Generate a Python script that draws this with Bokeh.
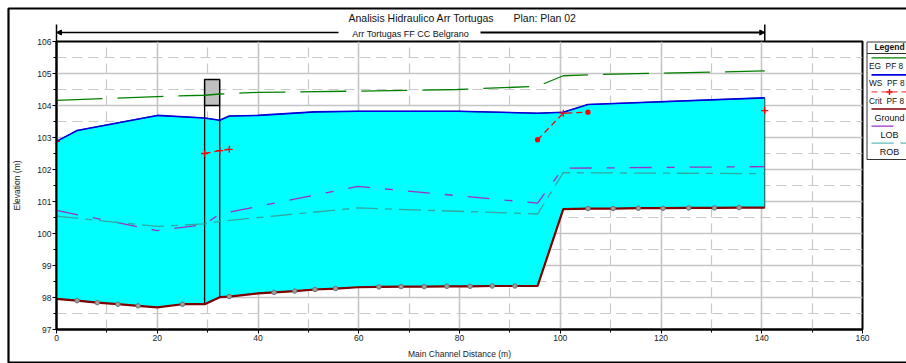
import math

from bokeh.plotting import figure
from bokeh.models import Range1d, SingleIntervalTicker, Arrow, NormalHead
from bokeh.core.properties import value
from bokeh.embed import file_html
from bokeh.resources import INLINE

NAN = math.nan
NBSP = "\u00a0"

# ---------------------------------------------------------------------------
# Longitudinal profile data: main channel distance (m) / elevation (m)
# ---------------------------------------------------------------------------
ground_sta = [0.0, 4.1, 8.1, 12.2, 16.2, 20.0, 25.0, 29.4, 32.4, 34.3, 40.0, 43.2,
              47.3, 51.3, 55.4, 59.8, 64.0, 68.4, 73.0, 77.5, 82.1, 86.5, 91.0,
              95.5, 100.6, 105.5, 110.5, 115.5, 120.4, 125.5, 130.6, 135.5, 140.6]
ground_elev = [97.96, 97.90, 97.84, 97.79, 97.74, 97.69, 97.79, 97.79, 98.01, 98.03,
               98.13, 98.16, 98.20, 98.25, 98.28, 98.32, 98.33, 98.34, 98.34, 98.35,
               98.35, 98.36, 98.36, 98.36, 100.76, 100.78, 100.78, 100.79, 100.79,
               100.80, 100.80, 100.81, 100.81]
# interpolated cross sections get a small marker on the ground line
ground_interp = [False, True, True, True, True, False, True, False, False, True, False,
                 True, True, True, True, False, True, True, True, True, True, True, True,
                 False, False, True, True, True, True, True, True, True, False]

ws_sta = [0.0, 4.1, 20.0, 29.4, 32.4, 34.3, 40.0, 51.3, 59.8, 79.6, 95.5, 100.6, 105.5, 140.6]
ws_elev = [102.88, 103.22, 103.69, 103.61, 103.54, 103.67, 103.69, 103.80, 103.82, 103.82,
           103.76, 103.79, 104.03, 104.24]

eg_sta = [0.0, 20.0, 29.4, 32.4, 40.0, 59.8, 79.6, 95.5, 100.6, 105.5, 140.6]
eg_elev = [104.16, 104.28, 104.32, 104.36, 104.41, 104.45, 104.50, 104.60, 104.93, 104.96, 105.08]

# critical depth is only reported at some sections (NaN = not computed)
crit_sta = [0.0, 20.0, 29.4, 32.4, 34.3, 59.8, 95.5, 100.6, 105.5, 120.0, 140.6]
crit_elev = [102.88, NAN, 102.50, 102.59, 102.63, NAN, 102.93, 103.76, 103.79, NAN, 103.84]
crit_symbol = ["cross", "cross", "cross", "cross", "cross", "cross", "circle", "cross",
               "circle", "cross", "cross"]

lob_sta = [0.0, 20.0, 29.4, 32.4, 59.8, 95.5, 100.6, 140.6]
lob_elev = [100.72, 100.09, 100.28, 100.61, 101.47, 100.95, 102.04, 102.09]

rob_sta = [0.0, 20.0, 29.4, 32.4, 59.8, 95.5, 100.6, 140.6]
rob_elev = [100.54, 100.22, 100.30, 100.38, 100.80, 100.61, 101.90, 101.87]

# bridge: upstream / downstream faces and deck chords
bridge_sta = [29.4, 32.4]
deck_low_chord = 104.00
deck_high_chord = 104.81

reach_start = 0.0
reach_end = 140.6

title_texts = ["Analisis Hidraulico Arr Tortugas", "Plan: Plan 02"]
reach_text = "Arr Tortugas FF CC Belgrano"

legend_labels = ["EG" + NBSP * 2 + "PF 8", "WS" + NBSP * 2 + "PF 8",
                 "Crit" + NBSP * 2 + "PF 8", "Ground", "LOB", "ROB"]
legend_colors = ["#008000", "#0000e0", "#ff5050", "#800000", "#9b30c8", "#60bcb4"]
legend_dashes = ["46 15", "solid", "6 4", "solid", "22 15 8 15", "22 7 7 7"]

# ---------------------------------------------------------------------------
# Page geometry (pixels)
# ---------------------------------------------------------------------------
W, H = 906, 363
FRAME_L, FRAME_R = 56, 862            # chart frame on the page
FRAME_T, FRAME_B = 41, 329
X0, X1 = 0, 160
Y0, Y1 = 97, 106
FONT = "Liberation Sans"
KX = (FRAME_R - FRAME_L) / (X1 - X0)  # pixels per metre along the reach


def px_to_sta(px):
    """page pixel column -> main channel distance"""
    return X0 + (px - FRAME_L) / KX


# ---------------------------------------------------------------------------
# Page decoration layer: border, title, reach banner, legend.
# x in metres along the reach (same scale as the chart), y in page pixels.
# ---------------------------------------------------------------------------
deco = figure(width=W, height=H, x_range=Range1d(px_to_sta(0), px_to_sta(W)),
              y_range=Range1d(H, 0), output_backend="svg", toolbar_location=None,
              min_border=0, x_axis_type=None, y_axis_type=None)
deco.title.visible = False
deco.outline_line_color = None
deco.background_fill_color = "white"
deco.border_fill_color = "white"
deco.grid.visible = False

# page border (its right side lies beyond the visible area)
deco.line([px_to_sta(W + 20), px_to_sta(8), px_to_sta(8), px_to_sta(W + 20)],
          [8, 8, 362, 362], line_color="black", line_width=2.2)

# title
deco.text(x=[px_to_sta(348), px_to_sta(513)], y=[17, 17], text=title_texts,
          text_font=value(FONT), text_font_size="10.5px", text_baseline="middle",
          text_color="#111111")

# reach banner
reach_mid = (reach_start + reach_end) / 2
deco.text(x=[reach_mid], y=[33], text=[reach_text], text_font=value(FONT),
          text_font_size="9px", text_baseline="middle", text_align="center",
          text_color="#111111")
deco.add_layout(Arrow(x_start=px_to_sta(338), y_start=32, x_end=reach_start, y_end=32,
                      line_color="black", line_width=1.5,
                      end=NormalHead(size=5, fill_color="black", line_color="black")))
deco.add_layout(Arrow(x_start=px_to_sta(480), y_start=32, x_end=reach_end, y_end=32,
                      line_color="black", line_width=2,
                      end=NormalHead(size=5, fill_color="black", line_color="black")))
deco.segment(x0=[reach_start, reach_end], y0=[24, 24], x1=[reach_start, reach_end],
             y1=[FRAME_T, FRAME_T], line_color="black", line_width=1.5)

# legend panel
LG_L, LG_T, LG_B, LG_CX = 866.5, 41.5, 159, 889
deco.quad(left=[px_to_sta(LG_L)], right=[px_to_sta(W + 20)], top=[LG_T], bottom=[LG_B],
          fill_color="white", line_color="#333333", line_width=1)
deco.segment(x0=[px_to_sta(LG_L)], y0=[53], x1=[px_to_sta(W + 5)], y1=[53],
             line_color="#333333", line_width=1)
deco.text(x=[px_to_sta(LG_CX)], y=[46.8], text=["Legend"], text_font=value(FONT),
          text_font_size="8.5px", text_font_style="bold", text_align="center",
          text_baseline="middle", text_color="#111111")

row_y = [57.3 + i * 17.08 for i in range(len(legend_labels))]
for col, dash, ly in zip(legend_colors, legend_dashes, row_y):
    deco.line([px_to_sta(871), px_to_sta(W + 10)], [ly, ly], line_color=col,
              line_width=1.6 if dash == "solid" else 1.3, line_dash=dash)
deco.scatter([px_to_sta(LG_CX)], [row_y[2]], marker="cross", size=6, line_color="#ff0000",
             line_width=1.5)

# profile entries are left-aligned so they stay inside the page; the rest are centred
label_y = [ly + 8.6 for ly in row_y]
deco.text(x=[px_to_sta(868.5)] * 3, y=label_y[:3], text=legend_labels[:3],
          text_font=value(FONT), text_font_size="8.3px", text_align="left",
          text_baseline="middle", text_color="#111111")
deco.text(x=[px_to_sta(LG_CX)] * 3, y=label_y[3:], text=legend_labels[3:],
          text_font=value(FONT), text_font_size="9px", text_align="center",
          text_baseline="middle", text_color="#111111")

# ---------------------------------------------------------------------------
# Main profile chart (transparent border, laid over the decoration layer)
# ---------------------------------------------------------------------------
p = figure(width=W, height=H, x_range=Range1d(X0, X1), y_range=Range1d(Y0, Y1),
           output_backend="svg", toolbar_location=None,
           min_border_left=FRAME_L, min_border_right=W - FRAME_R,
           min_border_top=FRAME_T, min_border_bottom=H - FRAME_B,
           styles={"position": "absolute", "top": "0px", "left": "0px"})
p.title.visible = False
p.background_fill_color = "white"
p.border_fill_color = None
p.outline_line_color = "black"
p.outline_line_width = 2

xticker = SingleIntervalTicker(interval=20, num_minor_ticks=2)
yticker = SingleIntervalTicker(interval=1, num_minor_ticks=2)
p.xaxis.ticker = xticker
p.yaxis.ticker = yticker
p.xgrid.ticker = xticker
p.ygrid.ticker = yticker

for g in (p.xgrid, p.ygrid):
    g.grid_line_color = "#c4c4c4"
    g.grid_line_width = 1.5
    g.minor_grid_line_color = "#c8c8c8"
    g.minor_grid_line_width = 1.2
    g.minor_grid_line_dash = "10 6"

for ax in (p.xaxis, p.yaxis):
    ax.axis_line_color = "black"
    ax.axis_line_width = 2
    ax.major_tick_in = 0
    ax.major_tick_out = 4
    ax.minor_tick_in = 0
    ax.minor_tick_out = 3
    ax.major_tick_line_color = "black"
    ax.minor_tick_line_color = "black"
    ax.major_label_text_font = FONT
    ax.major_label_text_font_size = "8.5px"
    ax.major_label_text_color = "#222222"
    ax.axis_label_text_font = FONT
    ax.axis_label_text_font_size = "8.5px"
    ax.axis_label_text_font_style = "normal"
    ax.axis_label_text_color = "#222222"

p.xaxis.axis_label = "Main Channel Distance (m)"
p.yaxis.axis_label = "Elevation (m)"
p.xaxis.major_label_standoff = 1
p.xaxis.axis_label_standoff = 5
p.yaxis.major_label_standoff = 1
p.yaxis.axis_label_standoff = 12

# water body between ground and water surface
p.patch(ground_sta + ws_sta[::-1], ground_elev + ws_elev[::-1],
        fill_color="#00ffff", line_color="#2f3f3f", line_width=1)

# bridge faces and deck
face_ground = [ground_elev[ground_sta.index(s)] for s in bridge_sta]
p.segment(x0=bridge_sta, y0=face_ground, x1=bridge_sta,
          y1=[deck_low_chord] * len(bridge_sta), line_color="black", line_width=1.3)
p.quad(left=[bridge_sta[0]], right=[bridge_sta[1]], bottom=[deck_low_chord],
       top=[deck_high_chord], fill_color="#c0c0c0", line_color="black", line_width=1.5)

# ground
p.line(ground_sta, ground_elev, line_color="#800000", line_width=2.2)
gx = [s for s, f in zip(ground_sta, ground_interp) if f]
gy = [e for e, f in zip(ground_elev, ground_interp) if f]
p.scatter(gx, gy, marker="circle", size=4.5, line_color="#707070", fill_color="#a0a0a0",
          line_width=1)

# water surface
p.line(ws_sta, ws_elev, line_color=legend_colors[1], line_width=1.6)

# bank stations
p.line(lob_sta, lob_elev, line_color="#9b30c8", line_width=1.3, line_dash=legend_dashes[4])
p.line(rob_sta, rob_elev, line_color="#30a8a0", line_width=1.3, line_dash=legend_dashes[5])

# critical depth
p.line(crit_sta, crit_elev, line_color="#ff0000", line_width=1.3, line_dash=legend_dashes[2])
crit_size = [4 if m == "circle" else 7 for m in crit_symbol]
p.scatter(crit_sta, crit_elev, marker=crit_symbol, size=crit_size, line_color="#ff0000",
          fill_color="#ff0000", line_width=1.3)

# energy grade
p.line(eg_sta, eg_elev, line_color=legend_colors[0], line_width=1.3,
       line_dash=legend_dashes[0])

open("out.html", "w").write(file_html([deco, p], INLINE))
